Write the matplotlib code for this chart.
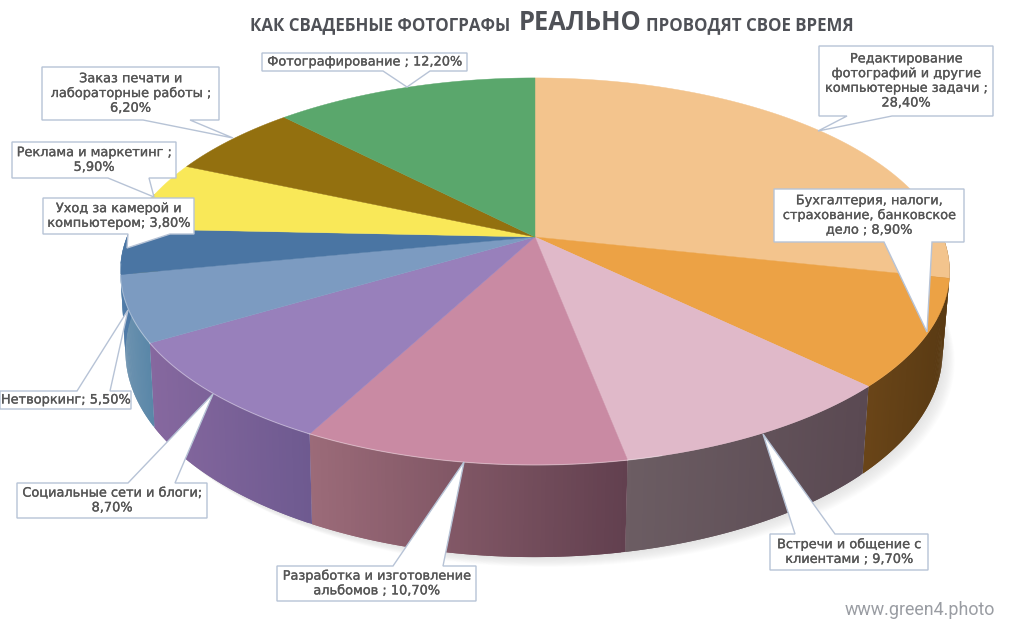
import numpy as np
import matplotlib
matplotlib.use("Agg")
import matplotlib.pyplot as plt
import matplotlib.patheffects as pe
from matplotlib.collections import PolyCollection
from matplotlib.colors import to_rgb

labels = ["Редактирование\nфотографий и другие\nкомпьютерные задачи ;\n28,40%",
          "Бухгалтерия, налоги,\nстрахование, банковское\nдело ; 8,90%",
          "Встречи и общение с\nклиентами ; 9,70%",
          "Разработка и изготовление\nальбомов ; 10,70%",
          "Социальные сети и блоги;\n8,70%",
          "Нетворкинг; 5,50%",
          "Уход за камерой и\nкомпьютером; 3,80%",
          "Реклама и маркетинг ;\n5,90%",
          "Заказ печати и\nлабораторные работы ;\n6,20%",
          "Фотографирование ; 12,20%"]
values = [28.4, 8.9, 9.7, 10.7, 8.7, 5.5, 3.8, 5.9, 6.2, 12.2]

top_colors = ["#f3c48d", "#eca245", "#e0b9c9", "#c98aa3", "#9880bb",
              "#7c9bc1", "#4a75a3", "#f9e858", "#93700f", "#5aa76c"]
side_left = ["#8a6a3a", "#6a4518", "#6c5d63", "#9c6b79", "#86689f",
             "#6e93b0", "#4f7ba8", "#aaa040", "#65500f", "#3f7a4e"]
side_right = ["#6a4518", "#593a13", "#5a4952", "#62404f", "#6e5a90",
              "#5a87a8", "#4a75a3", "#aaa040", "#65500f", "#3f7a4e"]

# label boxes: left, top, right, bottom, tail base x1, tail base x2, tip x, tip y
boxes = [(819, 46, 993, 116, 847, 892, 818, 131),
         (774, 189, 964, 242, 884, 932, 927, 332),
         (770, 534, 928, 570, 795, 835, 763, 434),
         (277, 566, 476, 601, 393, 443, 464, 462),
         (17, 483, 207, 518, 128, 175, 213, 394),
         (0, 391, 131, 409, 77, 110, 128, 310),
         (43, 198, 194, 234, 128, 170, 127, 248),
         (12, 142, 176, 178, 108, 149, 154, 197),
         (42, 67, 219, 120, 143, 190, 233, 138),
         (262, 53, 467, 71, 383, 430, 407, 87)]


def top_rim(theta):
    u, v = np.sin(theta), -np.cos(theta)
    w = 1 - 0.178 * v
    return 535 + 408 * u / w, 237 + 187.4 * v / w


def bottom_rim(theta):
    u, v = np.sin(theta), -np.cos(theta)
    w = 1 - 0.178 * v
    return 534 + 402 * u / w, 315 + 199 * v / w


fig = plt.figure(figsize=(10.24, 6.4), dpi=100)
ax = fig.add_axes([0, 0, 1, 1])
ax.set_xlim(0, 1024)
ax.set_ylim(640, 0)
ax.axis("off")

edges = np.radians(np.concatenate([[0], np.cumsum(values)]) * 3.6)

# soft shadow under the disc
t = np.radians(np.linspace(85, 285, 200))
bx, by = bottom_rim(t)
for d in range(1, 12):
    ax.fill(np.r_[bx + d * 1.1, bx[::-1]], np.r_[by + d * 0.9, by[::-1] - 20],
            color="#8a8a8a", alpha=0.018, lw=0, zorder=1)

# side wall, one gradient per slice
for i in range(len(values)):
    a = max(edges[i], np.radians(82))
    b = min(edges[i + 1], np.radians(284))
    if b <= a:
        continue
    n = max(int(np.degrees(b - a) * 2), 2)
    th = np.linspace(a, b, n + 1)
    x1, y1 = top_rim(th)
    x2, y2 = bottom_rim(th)
    c0 = np.array(to_rgb(side_left[i]))
    c1 = np.array(to_rgb(side_right[i]))
    quads = []
    cols = []
    # each quad overlaps the next one so no seams show
    for k in range(n):
        e = min(k + 2, n)
        quads.append([(x1[j], y1[j]) for j in range(k, e + 1)] + [(x2[j], y2[j]) for j in range(e, k - 1, -1)])
        s = (x1[k] - x1.min()) / max(x1.max() - x1.min(), 1)
        cols.append(c0 + (c1 - c0) * s)
    ax.add_collection(PolyCollection(quads, facecolors=cols, edgecolors="none", zorder=2))

# top face
for i in range(len(values)):
    th = np.linspace(edges[i], edges[i + 1], 120)
    x, y = top_rim(th)
    ax.fill(np.r_[top_rim(0.0)[0], x], np.r_[237, y], color=top_colors[i], lw=0.3, zorder=3)
    # thin lit rim on the front edge
    front = (th > np.radians(165)) & (th < np.radians(262))
    if front.any():
        ax.plot(x[front], y[front], color="white", alpha=0.35, lw=0.8, zorder=4)

# callouts
for lab, bx_ in zip(labels, boxes):
    l, t_, r, b, t1, t2, tx, ty = bx_
    if ty > b:
        pts = [(l, t_), (r, t_), (r, b), (t2, b), (tx, ty), (t1, b), (l, b)]
    else:
        pts = [(l, t_), (t1, t_), (tx, ty), (t2, t_), (r, t_), (r, b), (l, b)]
    xs, ys = zip(*pts)
    ax.fill(xs, ys, facecolor="white", edgecolor="#b7c3d6", lw=1.0, zorder=6)
    ax.text((l + r) / 2, (t_ + b) / 2, lab, ha="center", va="center", fontsize=9.3,
            color="#555555", family="DejaVu Sans", linespacing=1.17, zorder=7,
            path_effects=[pe.withStroke(linewidth=0.2, foreground="#555555")])

# title in three pieces
ax.text(250, 30, "КАК СВАДЕБНЫЕ ФОТОГРАФЫ", fontsize=12.2, fontweight="bold", color="#4f5157",
        family="Open Sans", va="baseline", ha="left")
ax.text(519, 30, "РЕАЛЬНО", fontsize=18.4, fontweight="bold", color="#4f5157",
        family="Open Sans", va="baseline", ha="left")
ax.text(646, 30, "ПРОВОДЯТ СВОЕ ВРЕМЯ", fontsize=12.2, fontweight="bold", color="#4f5157",
        family="Open Sans", va="baseline", ha="left")

ax.text(845, 615, "www.green4.photo", fontsize=12.9, color="#9a9da3", family="Roboto",
        va="baseline", ha="left")

fig.savefig("out.png", dpi=100)
